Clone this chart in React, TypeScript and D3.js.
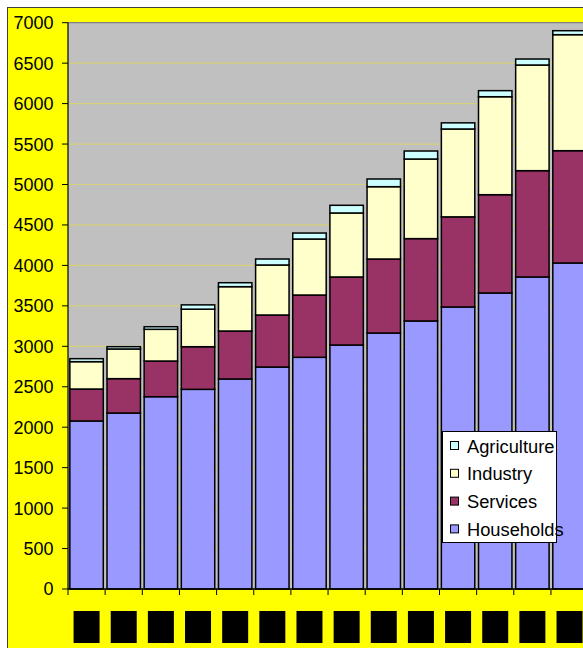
import React from "react";
import * as d3 from "d3";

// Energy consumption by sector, stacked per year
const categories = ["1990", "1991", "1992", "1993", "1994", "1995", "1996", "1997", "1998", "1999", "2000", "2001", "2002", "2003"];
const households = [2077, 2175, 2377, 2468, 2596, 2744, 2864, 3016, 3164, 3313, 3486, 3659, 3857, 4030];
const services = [395, 425, 441, 527, 593, 643, 770, 841, 915, 1018, 1114, 1215, 1314, 1388];
const industry = [338, 367, 392, 464, 548, 618, 692, 791, 894, 984, 1086, 1211, 1306, 1434];
const agriculture = [37, 28, 32, 53, 49, 74, 74, 95, 95, 99, 76, 75, 74, 49];
const seriesNames = ["Households", "Services", "Industry", "Agriculture"];
const seriesColors = ["#9999FF", "#993366", "#FFFFCC", "#CCFFFF"];
const yTicks = d3.range(0, 7001, 500);

const FONT = "'Liberation Sans', Arial, sans-serif";

export default function App() {
  const W = 583;
  const H = 648;
  const left = 68;
  const top = 22.7;
  const bottom = 589;
  const step = 37.15;
  const right = left + step * categories.length;

  const x = d3.scaleBand<string>().domain(categories).range([left, right]).padding(0);
  const y = d3.scaleLinear().domain([0, 7000]).range([bottom, top]);

  const rows = categories.map((c, i) => ({
    cat: c,
    Households: households[i],
    Services: services[i],
    Industry: industry[i],
    Agriculture: agriculture[i],
  }));
  const stacked = d3.stack<any>().keys(seriesNames)(rows);

  const bw = x.bandwidth();
  const barW = bw * 0.9;
  const barOff = (bw - barW) / 2;

  const legendItems = [...seriesNames].reverse();
  const legendColor = (n: string) => seriesColors[seriesNames.indexOf(n)];

  return (
    <svg width={W} height={H} style={{ position: "absolute", left: 0, top: 0, display: "block" }} fontFamily={FONT}>
      <rect x={0} y={0} width={W} height={H} fill="#ffffff" />
      {/* chart frame */}
      <rect x={7.5} y={7.5} width={W + 20} height={H + 20} fill="#FFFF00" stroke="#404040" strokeWidth={1} />
      {/* plot area */}
      <rect x={left} y={top} width={right - left + 20} height={bottom - top} fill="#C0C0C0" />
      <line x1={left} x2={W + 10} y1={top} y2={top} stroke="#808080" strokeWidth={1.2} />

      {/* gridlines */}
      {yTicks.slice(1, -1).map((t) => (
        <line key={"g" + t} x1={left} x2={W + 10} y1={y(t)} y2={y(t)} stroke="#D6D07A" strokeWidth={1.2} />
      ))}

      {/* stacked bars */}
      {stacked.map((layer, si) => (
        <g key={layer.key} fill={seriesColors[si]} stroke="#000" strokeWidth={1.5}>
          {layer.map((d: any) => (
            <rect
              key={d.data.cat}
              x={(x(d.data.cat) as number) + barOff}
              y={y(d[1])}
              width={barW}
              height={y(d[0]) - y(d[1])}
            />
          ))}
        </g>
      ))}

      {/* value axis */}
      <line x1={left} x2={left} y1={top} y2={bottom} stroke="#000" strokeWidth={1.2} />
      {yTicks.map((t) => (
        <g key={"t" + t}>
          <line x1={left - 6} x2={left} y1={y(t)} y2={y(t)} stroke="#000" strokeWidth={1} />
          <text x={53.5} y={y(t)} dy="0.36em" textAnchor="end" fontSize={18} fill="#000">
            {t}
          </text>
        </g>
      ))}

      {/* category axis */}
      <line x1={left} x2={W + 10} y1={bottom} y2={bottom} stroke="#000" strokeWidth={1.5} />
      {categories.map((c) => (
        <line key={"ct" + c} x1={x(c) as number} x2={x(c) as number} y1={bottom} y2={bottom + 6} stroke="#000" strokeWidth={1} />
      ))}
      {categories.map((c) => {
        const cx = (x(c) as number) + bw / 2;
        return (
          <g key={"cl" + c}>
            <rect x={cx - 13} y={611} width={26} height={32} fill="#000" />
            <text x={cx} y={633} textAnchor="middle" fontSize={11} fill="#000">
              {c}
            </text>
          </g>
        );
      })}

      {/* legend */}
      <g>
        <rect x={442.5} y={431.5} width={114} height={111} fill="#ffffff" stroke="#000" strokeWidth={1} />
        {legendItems.map((n, i) => {
          const cy = 446 + i * 27.8;
          return (
            <g key={"l" + n}>
              <rect x={450.5} y={cy - 4.5} width={8} height={8} fill={legendColor(n)} stroke="#000" strokeWidth={1} />
              <text x={467} y={cy} dy="0.36em" fontSize={18.3} fill="#000">
                {n}
              </text>
            </g>
          );
        })}
      </g>
    </svg>
  );
}
